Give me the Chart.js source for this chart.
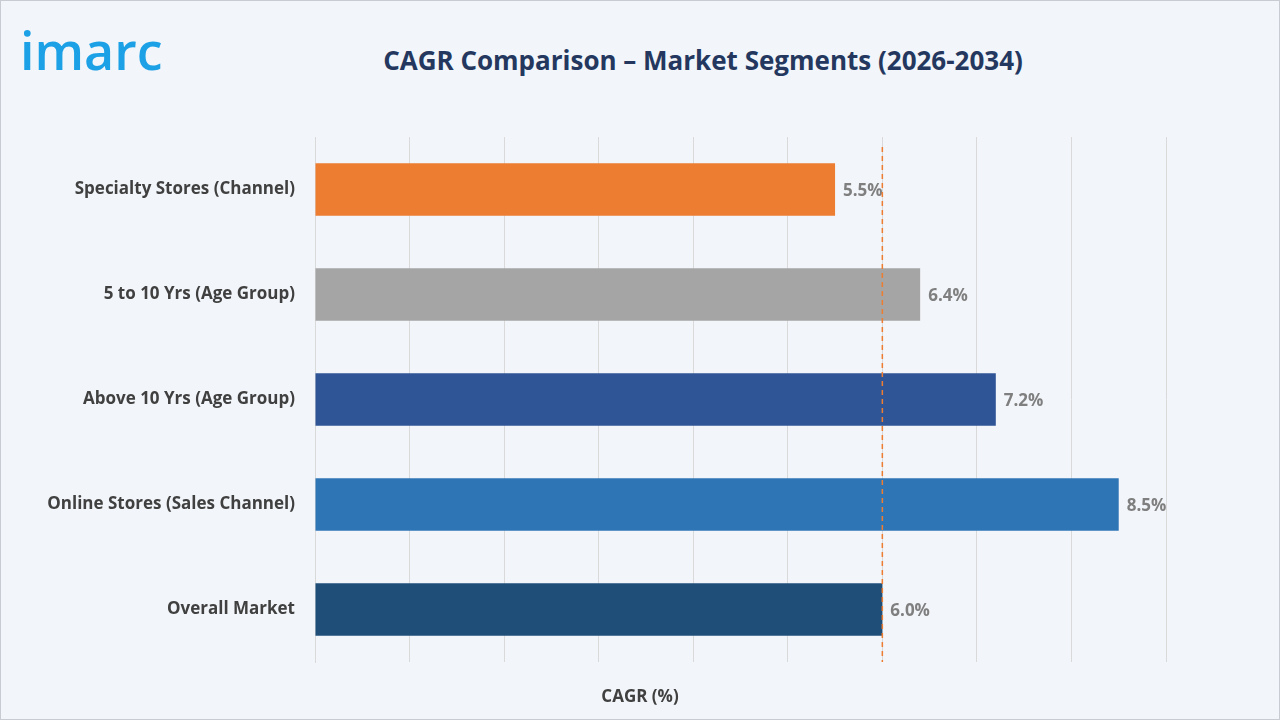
<!DOCTYPE html>
<html>
<head>
<meta charset="utf-8">
<script src="https://cdn.jsdelivr.net/npm/chart.js@4"></script>
<style>
  html, body { margin: 0; padding: 0; }
  body { width: 1280px; height: 720px; background: #f2f5f9; position: relative; overflow: hidden; font-family: "Open Sans", sans-serif; }
  #frame { position: absolute; left: 0; top: 0; width: 1278px; height: 718px; border: 1px solid #c8ccd2; }
  #logo { position: absolute; left: 20px; top: 14px; font: 600 52px "Open Sans", sans-serif; color: #1da1e6; letter-spacing: 0px; }
  #title { position: absolute; left: 0; width: 1406px; top: 42px; text-align: center; font: 700 26px "Open Sans", sans-serif; color: #24385f; }
  #chart { position: absolute; left: 0; top: 0; }
</style>
</head>
<body>
<div id="frame"></div>
<div id="logo">imarc</div>
<div id="title">CAGR Comparison – Market Segments (2026-2034)</div>
<canvas id="chart" width="1280" height="720"></canvas>
<script>
// Данные
const categories = ['Specialty Stores (Channel)', '5 to 10 Yrs (Age Group)', 'Above 10 Yrs (Age Group)', 'Online Stores (Sales Channel)', 'Overall Market'];
const cagrValues = [5.5, 6.4, 7.2, 8.5, 6.0];
const barColors = ['#ed7d31', '#a5a5a5', '#2f5597', '#2e75b6', '#1f4e79'];
const overallCagr = 6.0;
const axisTitle = 'CAGR (%)';

// Подписи значений, пунктир и подпись оси
const extras = {
    id: 'extras',
    afterDatasetsDraw(chart) {
        const { ctx, chartArea, scales } = chart;
        const meta = chart.getDatasetMeta(0);
        ctx.save();
        ctx.font = '700 17px "Open Sans", sans-serif';
        ctx.fillStyle = '#7f7f7f';
        ctx.textBaseline = 'middle';
        meta.data.forEach((bar, i) => {
            ctx.fillText(cagrValues[i].toFixed(1) + '%', bar.x + 8, bar.y + 2);
        });
        const x = scales.x.getPixelForValue(overallCagr);
        ctx.strokeStyle = '#ed7d31';
        ctx.lineWidth = 1.5;
        ctx.setLineDash([5, 4]);
        ctx.beginPath();
        ctx.moveTo(x, chartArea.top + 10);
        ctx.lineTo(x, chartArea.bottom);
        ctx.stroke();
        ctx.fillStyle = '#404040';
        ctx.textAlign = 'center';
        ctx.fillText(axisTitle, chart.width / 2, 697);
        ctx.restore();
    }
};

new Chart(document.getElementById('chart'), {
    type: 'bar',
    data: {
        labels: categories,
        datasets: [{ data: cagrValues, backgroundColor: barColors, categoryPercentage: 1, barPercentage: 0.5 }]
    },
    options: {
        indexAxis: 'y',
        responsive: false,
        animation: false,
        devicePixelRatio: 1,
        layout: { padding: { top: 137, right: 114, left: 0, bottom: 0 } },
        plugins: { legend: { display: false }, tooltip: { enabled: false } },
        scales: {
            x: {
                min: 0, max: 9,
                ticks: { display: false, stepSize: 1 },
                grid: { color: '#d9d9d9', drawTicks: false },
                border: { display: false },
                afterFit: (s) => { s.height = 58; }
            },
            y: {
                ticks: { color: '#404040', font: { family: 'Open Sans', size: 17, weight: '700' }, padding: 12 },
                grid: { display: false },
                border: { display: true, color: '#d9d9d9' },
                afterFit: (s) => { s.width = 315; }
            }
        }
    },
    plugins: [extras]
});
</script>
</body>
</html>
